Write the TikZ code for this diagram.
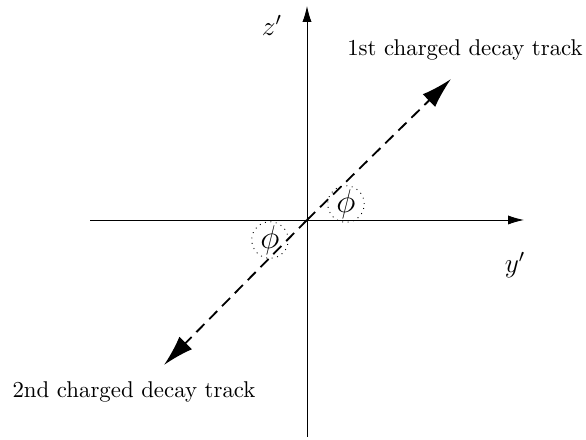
\documentclass[tikz,border=0pt]{standalone}
\usepackage{amsmath, amssymb}
\usetikzlibrary{arrows}
\usepgflibrary{arrows.meta}

\begin{document}
\begin{tikzpicture}
    [x=0.0154cm, y=0.0154cm,
    axis/.style={line width=0.4pt, -{Latex[length=7pt, width=4pt]}},
    track/.style={line width=0.8pt, dash pattern=on 5pt off 3pt, -{Latex[length=13.5pt, width=7.8pt]}},
    angle/.style={circle, draw, dotted, inner sep=0pt, minimum size=16pt}]
        \useasboundingbox (0,0) rectangle (586,440);
        %% axes
        \coordinate (O) at (307,220);
        \coordinate (Zlow) at (307,3);
        \coordinate (Ztop) at (307,434);
        \coordinate (Yleft) at (90,220);
        \coordinate (Yright) at (524,220);
        \node (Z) at (272,415) {\large$z'$};
        \node (Y) at (515,175) {\large$y'$};
        %% decay tracks
        \coordinate (T1) at (451,361);
        \coordinate (T2) at (164,75);
        \node (L1) at (465,390) {1st charged decay track};
        \node (L2) at (134,48) {2nd charged decay track};
        \node[angle] (P1) at (346,236) {\Large$\phi$};
        \node[angle] (P2) at (270,200) {\Large$\phi$};

        \draw[axis] (Zlow) to (Ztop);
        \draw[axis] (Yleft) to (Yright);
        \draw[track] (O) to (T1);
        \draw[track] (O) to (T2);
    \end{tikzpicture}
\end{document}
